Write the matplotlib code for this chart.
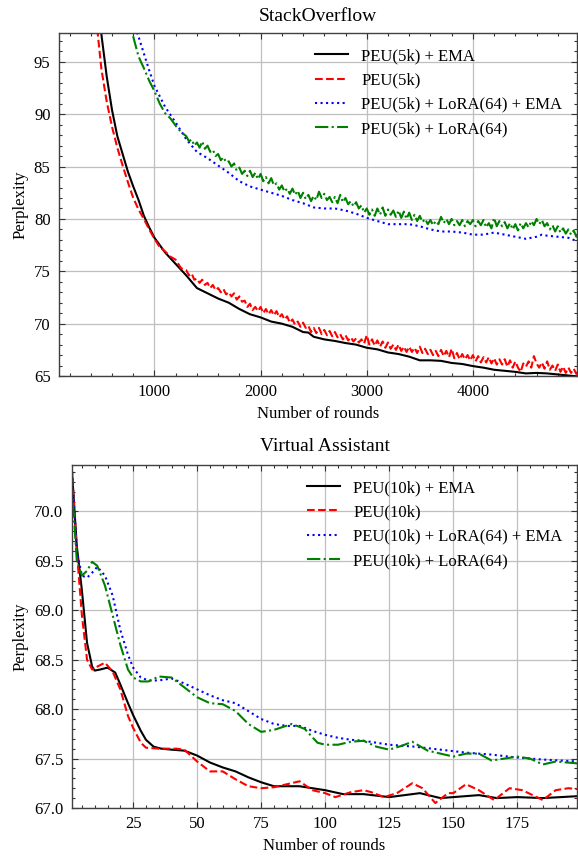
import matplotlib
matplotlib.use("Agg")
import matplotlib.pyplot as plt
from matplotlib.ticker import AutoMinorLocator, FormatStrFormatter

plt.rcParams["font.family"] = ["Liberation Serif", "DejaVu Serif"]

# ---- StackOverflow ----
so_labels = ["PEU(5k) + EMA", "PEU(5k)", "PEU(5k) + LoRA(64) + EMA", "PEU(5k) + LoRA(64)"]

so_ema_x = [450, 500, 550, 600, 650, 700, 750, 800, 850, 900, 950, 1000, 1100, 1200,
            1300, 1400, 1500, 1600, 1700, 1800, 1900, 2000, 2100, 2200, 2300, 2400,
            2450, 2500, 2600, 2700, 2800, 2900, 3000, 3100, 3200, 3300, 3400, 3500,
            3600, 3700, 3800, 3900, 4000, 4100, 4200, 4300, 4400, 4500, 4600, 4700,
            4800, 4900, 5000]
so_ema_y = [103.0, 97.6, 93.6, 90.4, 87.9, 86.2, 84.5, 83.1, 81.8, 80.3, 79.2, 78.2,
            76.8, 75.7, 74.6, 73.4, 72.9, 72.4, 72.0, 71.4, 70.9, 70.6, 70.2, 70.0,
            69.7, 69.2, 69.15, 68.75, 68.5, 68.35, 68.15, 68.0, 67.7, 67.55, 67.25,
            67.1, 66.85, 66.5, 66.5, 66.45, 66.25, 66.15, 65.95, 65.8, 65.6, 65.5,
            65.4, 65.25, 65.3, 65.25, 65.15, 65.05, 64.95]

so_peu_x = list(range(450, 1300, 50)) + list(range(1300, 5001, 25))
so_peu_y = [99.2, 94.3, 91.2, 88.8, 86.8, 85.1, 83.5, 82.0, 80.9, 80.0, 79.0, 78.1,
            77.3, 76.9, 76.4, 76.1, 75.3,
            75.1, 74.6, 74.8, 74.2, 74.3, 73.9, 74.2, 73.7,
            73.9, 73.4, 73.7, 73.2, 73.4, 73.0, 73.3, 72.8,
            73.0, 72.6, 72.9, 72.3, 72.6, 72.1, 72.2, 71.6,
            71.9, 71.3, 71.6, 71.2, 71.6, 71.0, 71.4, 70.9,
            71.3, 70.8, 71.2, 70.6, 70.9, 70.4, 70.7, 70.1,
            70.4, 69.9, 70.2, 69.7, 70.1, 69.6, 69.8, 69.2,
            69.6, 69.1, 69.6, 69.0, 69.4, 68.9, 69.3, 68.8,
            69.2, 68.7, 69.0, 68.5, 68.9, 68.4, 68.7, 68.3,
            68.6, 68.2, 68.5, 68.1, 68.9, 68.0, 68.5, 67.9,
            68.4, 67.8, 68.3, 67.7, 68.2, 67.6, 68.0, 67.5,
            68.0, 67.4, 67.8, 67.3, 67.8, 67.3, 67.7, 67.2,
            67.8, 67.2, 67.6, 67.1, 67.5, 67.0, 67.4, 66.9,
            67.5, 66.9, 67.4, 66.8, 67.6, 66.7, 67.2, 66.6,
            67.1, 66.6, 67.0, 66.5, 67.0, 66.4, 66.9, 66.3,
            66.8, 66.3, 66.8, 66.2, 66.7, 66.1, 66.6, 66.1,
            66.6, 65.9, 66.5, 65.8, 66.4, 65.8, 65.4, 66.2,
            65.9, 66.4, 65.8, 66.9, 66.2, 65.8, 66.3, 65.7,
            66.4, 65.6, 66.0, 65.5, 66.1, 65.4, 65.9, 65.3,
            65.8, 65.3, 65.7, 65.2, 65.6]

so_lora_ema_x = [800, 850, 900, 950, 1000, 1100, 1200, 1300, 1400, 1500, 1600, 1700,
                 1800, 1900, 2000, 2100, 2200, 2300, 2400, 2500, 2600, 2700, 2800,
                 2900, 3000, 3100, 3200, 3300, 3400, 3500, 3600, 3700, 3800, 3900,
                 4000, 4100, 4200, 4300, 4400, 4500, 4600, 4650, 4700, 4800, 4900, 5000]
so_lora_ema_y = [98.8, 97.4, 95.8, 94.2, 92.7, 90.7, 89.2, 87.6, 86.4, 85.8, 85.1,
                 84.4, 83.6, 83.1, 82.8, 82.5, 82.2, 81.8, 81.5, 81.1, 81.0, 81.0,
                 80.8, 80.5, 80.1, 79.8, 79.5, 79.5, 79.5, 79.3, 79.0, 78.8, 78.8,
                 78.7, 78.5, 78.5, 78.7, 78.5, 78.3, 78.1, 78.3, 78.5, 78.4, 78.3,
                 78.2, 77.8]

so_lora_x = list(range(750, 1300, 50)) + list(range(1300, 5001, 25))
so_lora_y = [99.5, 97.4, 95.5, 94.4, 93.2, 92.2, 91.0, 90.1, 89.6, 88.9, 88.3,
             87.9, 87.4, 87.6, 87.0, 87.3, 86.8, 87.4, 86.7,
             87.0, 86.4, 86.6, 86.0, 86.2, 85.6, 85.9, 85.4,
             85.5, 85.0, 85.3, 84.6, 84.9, 84.3, 84.6, 84.1,
             84.6, 84.0, 84.4, 83.8, 84.3, 83.6, 84.0, 83.4,
             83.9, 83.2, 83.4, 82.8, 83.2, 82.6, 82.9, 82.4,
             82.9, 82.3, 82.7, 82.0, 82.5, 81.9, 82.3, 81.7,
             82.2, 81.8, 82.6, 82.0, 82.4, 81.8, 82.1, 81.6,
             82.1, 81.5, 82.3, 81.6, 82.0, 81.4, 81.7, 81.2,
             81.6, 81.0, 81.3, 80.6, 81.0, 80.4, 80.9, 80.3,
             81.0, 80.4, 81.1, 80.3, 80.9, 80.4, 80.8, 80.2,
             80.8, 80.1, 80.7, 80.0, 80.6, 79.9, 80.4, 79.8,
             80.3, 79.7, 80.0, 79.5, 79.9, 79.4, 79.8, 79.5,
             80.2, 79.6, 80.0, 79.5, 80.0, 79.4, 79.8, 79.4,
             79.9, 79.3, 79.8, 79.5, 79.9, 79.3, 79.8, 79.4,
             79.9, 79.2, 79.6, 79.1, 80.1, 79.3, 79.8, 79.3,
             79.7, 79.1, 79.6, 79.0, 79.5, 78.9, 79.6, 79.1,
             79.6, 79.2, 79.8, 79.4, 80.0, 79.5, 79.9, 79.3,
             79.6, 79.0, 79.4, 78.8, 79.3, 78.7, 79.1, 78.6,
             79.0, 78.5, 78.9, 78.3, 78.8]

# ---- Virtual Assistant ----
va_labels = ["PEU(10k) + EMA", "PEU(10k)", "PEU(10k) + LoRA(64) + EMA", "PEU(10k) + LoRA(64)"]

va_ema_x = [1, 3, 5, 7, 9, 10, 12, 15, 18, 20, 23, 25, 28, 30, 33, 36, 40, 45, 50, 55,
            60, 65, 70, 75, 80, 90, 95, 100, 107, 115, 125, 137, 145, 160, 167, 175,
            185, 199]
va_ema_y = [70.45, 69.65, 69.2, 68.67, 68.43, 68.39, 68.4, 68.42, 68.37, 68.25, 68.06,
            67.94, 67.78, 67.69, 67.62, 67.6, 67.59, 67.58, 67.53, 67.46, 67.41, 67.37,
            67.31, 67.26, 67.22, 67.22, 67.2, 67.18, 67.14, 67.14, 67.11, 67.15, 67.1,
            67.13, 67.1, 67.11, 67.1, 67.12]

va_peu_x = [1, 3, 5, 7, 9, 11, 14, 17, 20, 23, 25, 28, 30, 35, 42, 45, 50, 55, 60, 65,
            70, 75, 80, 85, 90, 95, 100, 104, 110, 115, 118, 123, 128, 134, 138, 143,
            148, 150, 155, 160, 166, 172, 177, 185, 190, 195, 199]
va_peu_y = [70.45, 69.6, 68.95, 68.5, 68.4, 68.43, 68.47, 68.38, 68.2, 67.93, 67.81,
            67.66, 67.61, 67.6, 67.6, 67.59, 67.47, 67.37, 67.37, 67.29, 67.22, 67.2,
            67.21, 67.24, 67.27, 67.18, 67.15, 67.11, 67.16, 67.18, 67.16, 67.11,
            67.15, 67.25, 67.2, 67.05, 67.15, 67.15, 67.24, 67.18, 67.08, 67.2, 67.18,
            67.08, 67.18, 67.2, 67.19]

va_lora_ema_x = [1, 3, 5, 7, 9, 11, 14, 17, 20, 23, 25, 28, 31, 35, 40, 45, 50, 55, 60,
                 65, 70, 75, 80, 85, 90, 95, 100, 105, 110, 115, 125, 135, 145, 155,
                 165, 175, 185, 199]
va_lora_ema_y = [70.45, 69.6, 69.35, 69.33, 69.38, 69.44, 69.35, 69.15, 68.8, 68.55,
                 68.42, 68.32, 68.29, 68.29, 68.31, 68.26, 68.2, 68.14, 68.09, 68.06,
                 67.98, 67.9, 67.85, 67.83, 67.83, 67.78, 67.74, 67.71, 67.69, 67.68,
                 67.64, 67.62, 67.59, 67.56, 67.54, 67.51, 67.49, 67.47]

va_lora_x = [1, 3, 5, 7, 9, 11, 14, 17, 20, 23, 25, 28, 31, 35, 40, 45, 50, 55, 60, 65,
             70, 75, 80, 87, 92, 97, 100, 105, 110, 115, 120, 125, 130, 134, 140, 145,
             150, 155, 160, 165, 170, 175, 180, 185, 190, 199]
va_lora_y = [70.3, 69.5, 69.35, 69.4, 69.49, 69.45, 69.25, 68.95, 68.65, 68.4, 68.32,
             68.28, 68.28, 68.33, 68.32, 68.22, 68.12, 68.06, 68.05, 67.98, 67.85,
             67.77, 67.79, 67.85, 67.8, 67.66, 67.64, 67.64, 67.67, 67.68, 67.62,
             67.59, 67.63, 67.67, 67.58, 67.55, 67.52, 67.55, 67.55, 67.48, 67.5,
             67.52, 67.5, 67.44, 67.47, 67.45]

styles = [dict(color="k", ls="-"), dict(color="r", ls="--"),
          dict(color="b", ls=":"), dict(color="g", ls="-.")]

fig = plt.figure(figsize=(5.78, 8.56), dpi=100)
ax1 = fig.add_axes([0.102, 0.5607, 0.897, 0.4007])
ax2 = fig.add_axes([0.124, 0.0561, 0.875, 0.4007])


def style_axes(ax):
    ax.grid(True, which="major", color="0.75", lw=0.9)
    ax.set_axisbelow(True)
    ax.xaxis.set_minor_locator(AutoMinorLocator())
    ax.yaxis.set_minor_locator(AutoMinorLocator())
    ax.tick_params(which="both", direction="in", top=True, right=True,
                   labelsize=12, width=0.8, color="0.2")
    ax.tick_params(which="major", length=4, pad=6)
    ax.tick_params(which="minor", length=2)
    for s in ax.spines.values():
        s.set_linewidth(1.0)
        s.set_color("0.25")
    ax.set_xlabel("Number of rounds", fontsize=12)
    ax.set_ylabel("Perplexity", fontsize=12)


so_series = [(so_ema_x, so_ema_y), (so_peu_x, so_peu_y),
             (so_lora_ema_x, so_lora_ema_y), (so_lora_x, so_lora_y)]
for (x, y), lab, st in zip(so_series, so_labels, styles):
    ax1.plot(x, y, lw=1.5, label=lab, **st)
ax1.set_xlim(100, 4985)
ax1.set_ylim(65, 97.75)
ax1.set_xticks([1000, 2000, 3000, 4000])
ax1.set_yticks([65, 70, 75, 80, 85, 90, 95])
ax1.set_title("StackOverflow", fontsize=14, pad=9)
style_axes(ax1)
ax1.legend(loc="upper right", frameon=False, fontsize=12, labelspacing=0.5)

va_series = [(va_ema_x, va_ema_y), (va_peu_x, va_peu_y),
             (va_lora_ema_x, va_lora_ema_y), (va_lora_x, va_lora_y)]
for (x, y), lab, st in zip(va_series, va_labels, styles):
    ax2.plot(x, y, lw=1.5, label=lab, **st)
ax2.set_xlim(1, 198.5)
ax2.set_ylim(67.0, 70.47)
ax2.set_xticks([25, 50, 75, 100, 125, 150, 175])
ax2.set_yticks([67.0, 67.5, 68.0, 68.5, 69.0, 69.5, 70.0])
ax2.yaxis.set_major_formatter(FormatStrFormatter("%.1f"))
ax2.set_title("Virtual Assistant", fontsize=14, pad=10)
style_axes(ax2)
ax2.legend(loc="upper right", frameon=False, fontsize=12, labelspacing=0.5)

fig.savefig("out.png", dpi=100)
